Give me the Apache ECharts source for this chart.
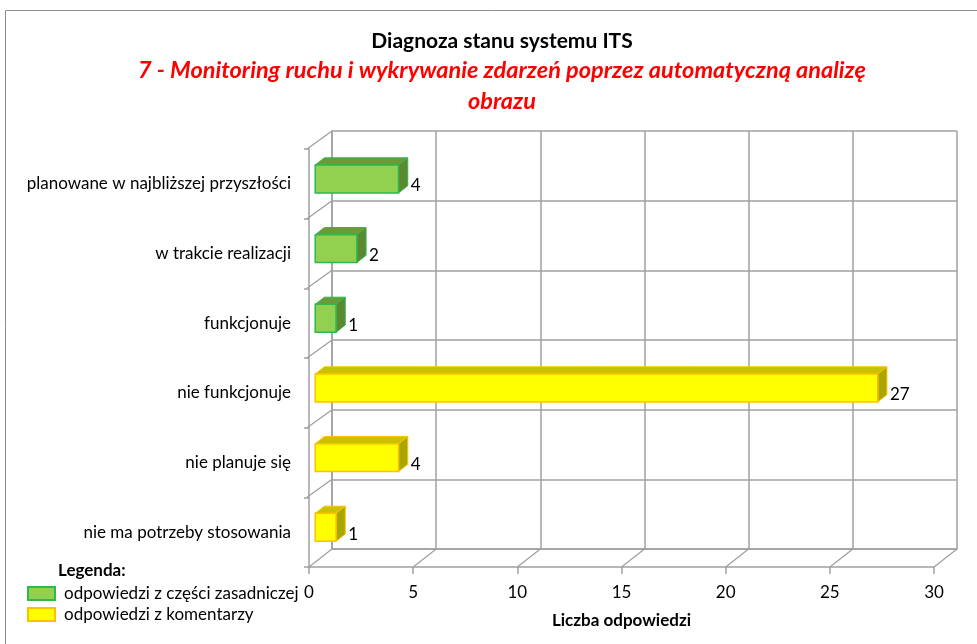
<!DOCTYPE html>
<html>
<head>
<meta charset="utf-8">
<script src="https://cdn.jsdelivr.net/npm/echarts@6/dist/echarts.min.js"></script>
<style>
  html, body {margin: 0; padding: 0; background: #fff;}
  #main {width: 977px; height: 644px;}
</style>
</head>
<body>
<div id="main"></div>
<script>
  // dane
  var categories = ['planowane w najbliższej przyszłości', 'w trakcie realizacji', 'funkcjonuje', 'nie funkcjonuje', 'nie planuje się', 'nie ma potrzeby stosowania'];
  var mainValues = [4, 2, 1, null, null, null];
  var commentValues = [null, null, null, 27, 4, 1];
  var xTicks = [0, 5, 10, 15, 20, 25, 30];

  var FONT = 'Lato, sans-serif';
  var DX = 23, DY = -18;        // głębokość ścian 3D
  var D0 = 0.27, DB = 0.4;      // przód słupka i jego głębokość (część DX/DY)

  function toData(vals) {
    var out = [];
    vals.forEach(function (v, i) { if (v != null) out.push([v, i]); });
    return out;
  }

  function bar3d(face, top, side, border) {
    return function (params, api) {
      var v = api.value(0), c = api.value(1);
      var p0 = api.coord([0, c]), p1 = api.coord([v, c]);
      var band = api.size([0, 1])[1];
      var h = band * 0.4;
      var ox = DX * D0, oy = DY * D0;
      var bx = DX * DB, by = DY * DB;
      var x0 = p0[0] + ox, x1 = p1[0] + ox;
      var y0 = p0[1] + oy - h / 2, y1 = y0 + h;
      return {
        type: 'group',
        children: [
          {type: 'polygon', shape: {points: [[x0, y0], [x0 + bx, y0 + by], [x1 + bx, y0 + by], [x1, y0]]},
            style: {fill: top, stroke: border, lineWidth: 1}},
          {type: 'polygon', shape: {points: [[x1, y0], [x1 + bx, y0 + by], [x1 + bx, y1 + by], [x1, y1]]},
            style: {fill: side, stroke: border, lineWidth: 1}},
          {type: 'rect', shape: {x: x0, y: y0, width: x1 - x0, height: h},
            style: {fill: face, stroke: border, lineWidth: 1.5}},
          {type: 'text', x: x1 + bx + 3, y: y1 - 7,
            style: {text: String(v), fill: '#000', font: '17px ' + FONT, verticalAlign: 'middle'}}
        ]
      };
    };
  }

  function frame(params, api) {
    var band = api.size([0, 1])[1];
    var n = categories.length;
    var top = api.coord([0, 0])[1] - band / 2;
    var bottom = top + n * band;
    var x0 = api.coord([0, 0])[0];
    var kids = [];
    var st = {stroke: '#9d9d9d', lineWidth: 1.2};
    xTicks.forEach(function (t) {
      var x = api.coord([t, 0])[0];
      kids.push({type: 'line', shape: {x1: x, y1: bottom, x2: x + DX, y2: bottom + DY}, style: st});
    });
    for (var i = 0; i < n; i++) {
      var y = top + i * band;
      kids.push({type: 'line', shape: {x1: x0 - 2, y1: y, x2: x0 + DX, y2: y + DY}, style: st});
    }
    return {type: 'group', children: kids};
  }

  var chart = echarts.init(document.getElementById('main'));
  var gridStyle = {color: '#a0a0a0', width: 1.5};
  var option = {
    animation: false,
    title: {
      text: 'Diagnoza stanu systemu ITS',
      subtext: '7 - Monitoring ruchu i wykrywanie zdarzeń poprzez automatyczną analizę\nobrazu',
      left: 497, top: 26, textAlign: 'center', itemGap: 3,
      textStyle: {fontFamily: FONT, fontSize: 21, fontWeight: 'bold', color: '#000'},
      subtextStyle: {fontFamily: FONT, fontSize: 23.5, fontWeight: 'bold', fontStyle: 'italic', color: '#ff0000', lineHeight: 31}
    },
    legend: {
      data: ['odpowiedzi z części zasadniczej', 'odpowiedzi z komentarzy'],
      orient: 'vertical', left: 22, top: 580, itemGap: 4,
      icon: 'rect', itemWidth: 27, itemHeight: 13,
      textStyle: {fontFamily: FONT, fontSize: 17, color: '#000', padding: [0, 0, 0, 4]}
    },
    graphic: [
      {type: 'rect', shape: {x: 5.5, y: 10.5, width: 1000, height: 700}, style: {fill: 'none', stroke: '#8c8c8c', lineWidth: 1}, silent: true, z: -10},
      {type: 'text', left: 58, top: 562, style: {text: 'Legenda:', font: 'bold 17px ' + FONT, fill: '#000'}}
    ],
    grid: [
      {left: 309, right: 43, top: 149, bottom: 77},
      {left: 309 + DX, right: 43 - DX, top: 149 + DY, bottom: 77 - DY}
    ],
    xAxis: [
      {type: 'value', gridIndex: 0, min: 0, max: 30, interval: 5,
        axisLine: {show: true, lineStyle: gridStyle},
        axisTick: {show: true, length: 7, lineStyle: gridStyle},
        splitLine: {show: false},
        axisLabel: {fontFamily: FONT, fontSize: 17, color: '#000', margin: 17},
        name: 'Liczba odpowiedzi', nameLocation: 'middle', nameGap: 45,
        nameTextStyle: {fontFamily: FONT, fontSize: 17, fontWeight: 'bold', color: '#000'}},
      {type: 'value', gridIndex: 1, min: 0, max: 30, interval: 5,
        axisLine: {show: true, lineStyle: gridStyle},
        axisTick: {show: false}, axisLabel: {show: false},
        splitLine: {show: true, lineStyle: gridStyle}}
    ],
    yAxis: [
      {type: 'category', gridIndex: 0, data: categories, inverse: true,
        axisLine: {show: true, lineStyle: gridStyle},
        axisTick: {show: true, length: 5, lineStyle: gridStyle},
        splitLine: {show: false},
        axisLabel: {fontFamily: FONT, fontSize: 17, color: '#000', margin: 18}},
      {type: 'category', gridIndex: 1, data: categories, inverse: true,
        axisLine: {show: true, lineStyle: gridStyle},
        axisTick: {show: false}, axisLabel: {show: false},
        splitLine: {show: true, lineStyle: gridStyle}}
    ],
    series: [
      {type: 'custom', name: 'frame', xAxisIndex: 0, yAxisIndex: 0, data: [[0, 0]], renderItem: frame, silent: true, z: 1},
      {type: 'custom', name: 'odpowiedzi z części zasadniczej', xAxisIndex: 0, yAxisIndex: 0,
        data: toData(mainValues), z: 5,
        itemStyle: {color: '#92d050', borderColor: '#2eb84e', borderWidth: 1},
        renderItem: bar3d('#92d050', '#6b9b37', '#5b8831', '#2eb84e')},
      {type: 'custom', name: 'odpowiedzi z komentarzy', xAxisIndex: 0, yAxisIndex: 0,
        data: toData(commentValues), z: 5,
        itemStyle: {color: '#ffff00', borderColor: '#ffc000', borderWidth: 1},
        renderItem: bar3d('#ffff00', '#c9c200', '#aaa600', '#ffc000')}
    ]
  };
  chart.setOption(option);
</script>
</body>
</html>
